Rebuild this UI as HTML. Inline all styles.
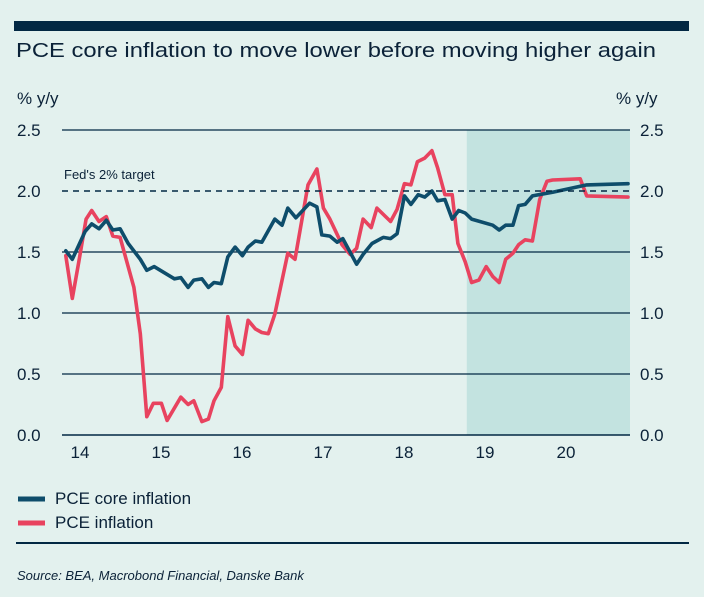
<!DOCTYPE html>
<html><head><meta charset="utf-8"><style>
body{margin:0;background:#e3f1ee;}
svg{display:block;font-family:"Liberation Sans",sans-serif;}
</style></head><body>
<svg id="chart" width="704" height="597" viewBox="0 0 704 597">
<rect x="0" y="0" width="704" height="597" fill="#e3f1ee"/>
<rect x="14" y="21" width="675" height="10" fill="#022843"/>
<text x="16" y="57" font-size="20" fill="#0b2238" textLength="640" lengthAdjust="spacingAndGlyphs">PCE core inflation to move lower before moving higher again</text>
<text x="17" y="104" font-size="17" fill="#0b2238">% y/y</text>
<text x="616" y="104" font-size="17" fill="#0b2238">% y/y</text>
<g id="plot"></g>
<line x1="18" y1="499" x2="45" y2="499" stroke="#0e4d6b" stroke-width="5"/>
<text x="55" y="504" font-size="17" fill="#0b2238">PCE core inflation</text>
<line x1="18" y1="523" x2="45" y2="523" stroke="#e8435f" stroke-width="5"/>
<text x="55" y="528" font-size="17" fill="#0b2238">PCE inflation</text>
<rect x="16" y="542" width="673" height="2" fill="#022843"/>
<text x="17" y="580" font-size="13" font-style="italic" fill="#0b2238">Source: BEA, Macrobond Financial, Danske Bank</text>
</svg>
<script>
const yTicks=[0,0.5,1.0,1.5,2.0,2.5];
const yTickLabels=["0.0","0.5","1.0","1.5","2.0","2.5"];
const years=[2014,2015,2016,2017,2018,2019,2020];
const yearLabels=["14","15","16","17","18","19","20"];
const forecastStart=2018.96;
const target=2.0;
const coreDates=[14.01,14.09,14.25,14.33,14.42,14.51,14.59,14.68,14.78,14.93,15.01,15.10,15.35,15.43,15.52,15.59,15.69,15.77,15.84,15.93,16.01,16.10,16.19,16.26,16.35,16.43,16.59,16.68,16.75,16.85,17.02,17.11,17.17,17.27,17.36,17.43,17.60,17.68,17.79,17.93,18.02,18.10,18.19,18.27,18.36,18.44,18.53,18.60,18.69,18.78,18.86,18.94,19.02,19.28,19.36,19.44,19.53,19.60,19.68,19.77,20.02,20.44,20.95];
const coreValues=[1.51,1.44,1.67,1.73,1.69,1.76,1.68,1.69,1.57,1.44,1.35,1.38,1.28,1.29,1.21,1.27,1.28,1.21,1.25,1.24,1.46,1.54,1.47,1.54,1.59,1.58,1.77,1.72,1.86,1.78,1.90,1.87,1.64,1.63,1.58,1.61,1.40,1.48,1.57,1.62,1.61,1.65,1.96,1.89,1.97,1.95,2.00,1.92,1.93,1.77,1.84,1.82,1.77,1.72,1.68,1.72,1.72,1.88,1.89,1.96,1.99,2.05,2.06];
const pceDates=[14.01,14.09,14.17,14.26,14.33,14.42,14.51,14.59,14.68,14.85,14.93,15.01,15.09,15.19,15.26,15.43,15.52,15.59,15.69,15.77,15.84,15.93,16.01,16.10,16.19,16.26,16.35,16.43,16.51,16.59,16.75,16.84,17.00,17.11,17.19,17.27,17.42,17.52,17.60,17.68,17.78,17.85,18.02,18.10,18.19,18.27,18.35,18.44,18.53,18.60,18.69,18.78,18.85,18.94,19.02,19.11,19.20,19.28,19.36,19.44,19.53,19.60,19.68,19.77,19.86,19.95,20.02,20.36,20.44,20.95];
const pceValues=[1.47,1.12,1.42,1.77,1.84,1.75,1.79,1.63,1.62,1.21,0.83,0.15,0.26,0.26,0.12,0.31,0.25,0.28,0.11,0.13,0.28,0.39,0.97,0.73,0.66,0.94,0.87,0.84,0.83,0.99,1.49,1.44,2.05,2.18,1.86,1.77,1.56,1.48,1.53,1.77,1.70,1.86,1.75,1.85,2.06,2.05,2.24,2.27,2.33,2.19,1.97,1.97,1.57,1.42,1.25,1.27,1.38,1.30,1.25,1.44,1.49,1.56,1.60,1.59,1.93,2.08,2.09,2.10,1.96,1.95];

const NS="http://www.w3.org/2000/svg";
const X0=62,X1=630,D0=2013.963,D1=2020.975;
function xScale(d){return X0+(d-D0)/(D1-D0)*(X1-X0);}
function yScale(v){return 435-v*122;}
const g=document.getElementById('plot');
function mk(tag,attrs){const e=document.createElementNS(NS,tag);for(const k in attrs)e.setAttribute(k,attrs[k]);g.appendChild(e);return e;}

let sh=mk('rect',{x:xScale(forecastStart),y:yScale(2.5),width:X1-xScale(forecastStart),height:yScale(0)-yScale(2.5),fill:'#c3e3e0'});



yTicks.forEach((t,i)=>{
  if(t!==target){
    const l=mk('line',{x1:X0,x2:X1,y1:yScale(t),y2:yScale(t),stroke:'#022843','stroke-width':t===0?1.5:1.2});
    
    
  }
  const a=mk('text',{x:17,y:yScale(t)+6,'font-size':17,fill:'#0b2238'});a.textContent=yTickLabels[i];
  
  
  const b=mk('text',{x:640,y:yScale(t)+6,'font-size':17,fill:'#0b2238'});b.textContent=yTickLabels[i];
  
  
});
years.forEach((yr,i)=>{
  const t=mk('text',{x:xScale(yr)+15,y:458,'font-size':17,fill:'#0b2238','text-anchor':'middle'});t.textContent=yearLabels[i];
  
  
});
function line(dates,vals,color,name){
  const pts=dates.map((d,i)=>xScale(2000+d).toFixed(1)+','+yScale(vals[i]).toFixed(1)).join(' ');
  const p=mk('polyline',{points:pts,fill:'none',stroke:color,'stroke-width':3.6,'stroke-linejoin':'round','stroke-linecap':'round'});
  
  
}
line(pceDates,pceValues,'#e8435f','pce-inflation-line');
line(coreDates,coreValues,'#0e4d6b','pce-core-inflation-line');
const tl=mk('line',{x1:X0,x2:X1,y1:yScale(target),y2:yScale(target),stroke:'#022843','stroke-width':1.6,'stroke-dasharray':'6,5'});


const tt=mk('text',{x:64,y:179,'font-size':13,fill:'#0b2238'});tt.textContent="Fed's 2% target";


</script>
</body></html>
